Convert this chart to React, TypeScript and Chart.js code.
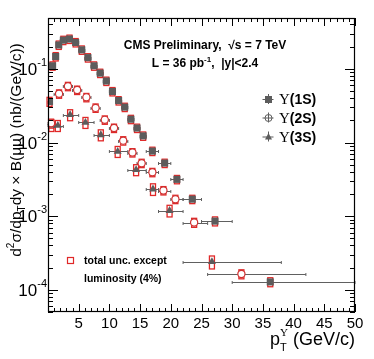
import React, { useEffect, useRef } from "react";
import { Chart, registerables } from "chart.js";
Chart.register(...registerables);

// ---- Data ----
const pt1S = [0.25, 0.75, 1.25, 1.75, 2.5, 3.5, 4.5, 5.5, 6.5, 7.5, 8.5, 9.5, 10.5, 11.5, 12.5, 13.5, 14.5, 15.5, 17, 19, 21, 23.5, 27.2, 36.2];
const lo1S = [0, 0.5, 1, 1.5, 2, 3, 4, 5, 6, 7, 8, 9, 10, 11, 12, 13, 14, 15, 16, 18, 20, 22, 25, 30];
const hi1S = [0.5, 1, 1.5, 2, 3, 4, 5, 6, 7, 8, 9, 10, 11, 12, 13, 14, 15, 16, 18, 20, 22, 25, 30, 50];
const val1S = [0.036, 0.11, 0.147, 0.211, 0.245, 0.254, 0.228, 0.181, 0.142, 0.11, 0.0875, 0.0683, 0.0493, 0.0371, 0.0302, 0.0207, 0.0157, 0.0123, 0.00764, 0.00525, 0.00316, 0.0017, 0.000857, 0.000128];
const unc1S = [0.14, 0.13, 0.13, 0.13, 0.13, 0.13, 0.13, 0.13, 0.13, 0.13, 0.13, 0.13, 0.13, 0.13, 0.13, 0.13, 0.13, 0.13, 0.13, 0.13, 0.13, 0.13, 0.14, 0.14];

const pt2S = [0.5, 1.8, 3.25, 4.75, 6.25, 7.75, 9.25, 10.75, 12.25, 13.75, 15.25, 17, 18.8, 20.75, 23.8, 31.5];
const lo2S = [0, 1, 2.5, 4, 5.5, 7, 8.5, 10, 11.5, 13, 14.5, 16, 18, 20, 22, 26];
const hi2S = [1, 2.5, 4, 5.5, 7, 8.5, 10, 11.5, 13, 14.5, 16, 18, 20, 22, 26, 42];
const val2S = [0.0182, 0.0458, 0.058, 0.0515, 0.041, 0.0295, 0.0203, 0.0157, 0.0106, 0.0073, 0.00524, 0.00394, 0.00223, 0.0017, 0.00082, 0.000164];
const unc2S = [0.14, 0.13, 0.13, 0.13, 0.13, 0.13, 0.13, 0.13, 0.13, 0.13, 0.13, 0.13, 0.13, 0.13, 0.14, 0.14];

const pt3S = [0.55, 1.6, 3.6, 6.1, 8.6, 11.35, 14.35, 17.1, 19.8, 26.7];
const lo3S = [0, 1, 2.5, 5, 7.5, 10, 13, 16, 18, 22];
const hi3S = [1, 2.5, 5, 7.5, 10, 13, 16, 18, 22, 38];
const val3S = [0.0172, 0.017, 0.0238, 0.0187, 0.0127, 0.00755, 0.00427, 0.00233, 0.00119, 0.00024];
const unc3S = [0.18, 0.17, 0.17, 0.17, 0.17, 0.17, 0.17, 0.18, 0.18, 0.2];

const xTickValues = [5, 10, 15, 20, 25, 30, 35, 40, 45, 50];
const xTickLabels = ["5", "10", "15", "20", "25", "30", "35", "40", "45", "50"];
const yDecades = [-1, -2, -3, -4];
const legendNames = ["(1S)", "(2S)", "(3S)"];

const FONT = '"Liberation Sans", Arial, Helvetica, sans-serif';
const SERIF = '"Liberation Serif", "DejaVu Serif", serif';
const GRAY = "#5c5c5c";
const BAR = "#606060";
const RED = "#e02828";

type Seg = { t: string; size: number; dy?: number; bold?: boolean; fam?: string; stack?: boolean };

function drawSegs(ctx: CanvasRenderingContext2D, segs: Seg[], x: number, y: number, align: "left" | "center" | "right") {
  const widths = segs.map((s) => {
    ctx.font = `${s.bold ? "bold " : ""}${s.size}px ${s.fam || FONT}`;
    return ctx.measureText(s.t).width;
  });
  let tw = 0, ps = 0, pe = 0;
  segs.forEach((s, i) => {
    if (s.stack) { pe = Math.max(pe, ps + widths[i]); tw = pe; }
    else { ps = pe; pe = ps + widths[i]; tw = pe; }
  });
  const x0 = align === "left" ? x : align === "center" ? x - tw / 2 : x - tw;
  ps = 0; pe = 0;
  segs.forEach((s, i) => {
    ctx.font = `${s.bold ? "bold " : ""}${s.size}px ${s.fam || FONT}`;
    let sx;
    if (s.stack) { sx = ps; pe = Math.max(pe, ps + widths[i]); }
    else { ps = pe; sx = ps; pe = ps + widths[i]; }
    ctx.fillText(s.t, x0 + sx, y + (s.dy || 0));
  });
}

const series = [
  { pt: pt1S, lo: lo1S, hi: hi1S, v: val1S, u: unc1S },
  { pt: pt2S, lo: lo2S, hi: hi2S, v: val2S, u: unc2S },
  { pt: pt3S, lo: lo3S, hi: hi3S, v: val3S, u: unc3S },
];

const errPlugin = {
  id: "errs",
  beforeDatasetsDraw(chart: any) {
    const ctx: CanvasRenderingContext2D = chart.ctx;
    const xs = chart.scales.x, ys = chart.scales.y;
    ctx.save();
    series.forEach((s) => {
      for (let i = 0; i < s.pt.length; i++) {
        const y = Math.round(ys.getPixelForValue(s.v[i])) + 0.5;
        const x1 = xs.getPixelForValue(s.lo[i]);
        const x2 = xs.getPixelForValue(s.hi[i]);
        const xc = xs.getPixelForValue(s.pt[i]);
        ctx.strokeStyle = BAR;
        ctx.lineWidth = 1;
        ctx.beginPath();
        ctx.moveTo(x1, y); ctx.lineTo(x2, y);
        ctx.moveTo(x1, y - 1.5); ctx.lineTo(x1, y + 1.5);
        ctx.moveTo(x2, y - 1.5); ctx.lineTo(x2, y + 1.5);
        ctx.stroke();
        const yt = ys.getPixelForValue(s.v[i] * (1 + s.u[i]));
        const yb = ys.getPixelForValue(s.v[i] * (1 - s.u[i]));
        ctx.strokeStyle = RED;
        ctx.lineWidth = 1.3;
        ctx.strokeRect(xc - 2.5, yt, 5, yb - yt);
      }
    });
    ctx.restore();
  },
  afterDraw(chart: any) {
    const ctx: CanvasRenderingContext2D = chart.ctx;
    const { left, right, top, bottom } = chart.chartArea;
    const xs = chart.scales.x, ys = chart.scales.y;
    ctx.save();
    ctx.strokeStyle = "#000";
    ctx.lineWidth = 1;
    ctx.beginPath();
    for (let v = 0; v <= 50; v++) {
      const px = Math.round(xs.getPixelForValue(v)) + 0.5;
      const len = v % 5 === 0 ? 8 : 4;
      ctx.moveTo(px, bottom); ctx.lineTo(px, bottom - len);
      ctx.moveTo(px, top); ctx.lineTo(px, top + len);
    }
    for (let d = -5; d <= 0; d++) {
      for (let m = 1; m <= 9; m++) {
        const v = m * Math.pow(10, d);
        if (v < ys.min || v > ys.max) continue;
        const py = Math.round(ys.getPixelForValue(v)) + 0.5;
        const len = m === 1 ? 10 : 5;
        ctx.moveTo(left, py); ctx.lineTo(left + len, py);
        ctx.moveTo(right, py); ctx.lineTo(right - len, py);
      }
    }
    ctx.stroke();
    ctx.lineWidth = 1.2;
    ctx.strokeRect(Math.round(left) + 0.5, Math.round(top) + 0.5, Math.round(right - left) - 1, Math.round(bottom - top) - 1);

    ctx.fillStyle = "#000";
    ctx.textBaseline = "alphabetic";
    ctx.font = `15px ${FONT}`;
    ctx.textAlign = "center";
    xTickValues.forEach((v, i) => {
      ctx.fillText(xTickLabels[i], xs.getPixelForValue(v), 328);
    });
    ctx.textAlign = "left";
    yDecades.forEach((d) => {
      const py = ys.getPixelForValue(Math.pow(10, d));
      const sup = String(d);
      ctx.font = `11px ${FONT}`;
      const sw = ctx.measureText(sup).width;
      ctx.font = `17px ${FONT}`;
      const bw = ctx.measureText("10").width;
      const xr = 47;
      ctx.fillText("10", xr - sw - bw, py + 6);
      ctx.font = `11px ${FONT}`;
      ctx.fillText(sup, xr - sw, py - 3);
    });

    // y axis title
    ctx.save();
    ctx.translate(21, 150);
    ctx.rotate(-Math.PI / 2);
    drawSegs(ctx, [
      { t: "d", size: 15.5 },
      { t: "2", size: 10, dy: -7 },
      { t: "σ/dp", size: 15.5 },
      { t: "T", size: 10, dy: 4 },
      { t: "dy × B(μμ) (nb/(GeV/c))", size: 15.5 },
    ], 0, 0, "center");
    ctx.restore();
    ctx.restore();
  },
};

const textPlugin = {
  id: "texts",
  afterDraw(chart: any) {
    const ctx: CanvasRenderingContext2D = chart.ctx;
    ctx.save();
    ctx.fillStyle = "#000";
    ctx.textBaseline = "alphabetic";
    ctx.textAlign = "left";
    drawSegs(ctx, [
      { t: "p", size: 18 },
      { t: "T", size: 11, dy: 6 },
      { t: "Υ", size: 11, dy: -9, stack: true, fam: SERIF },
      { t: " (GeV/c)", size: 18 },
    ], 355, 345, "right");

    drawSegs(ctx, [{ t: "CMS Preliminary,  √s = 7 TeV", size: 12, bold: true }], 205, 49, "center");
    drawSegs(ctx, [
      { t: "L = 36 pb", size: 12, bold: true },
      { t: "-1", size: 8, bold: true, dy: -5 },
      { t: ",  |y|<2.4", size: 12, bold: true },
    ], 205, 67, "center");

    const rows = [99, 117.5, 136.5];
    const mx = 268;
    rows.forEach((ry, i) => {
      ctx.strokeStyle = GRAY;
      ctx.lineWidth = 1;
      ctx.beginPath();
      ctx.moveTo(mx - 5.5, ry + 0.5); ctx.lineTo(mx + 5.5, ry + 0.5);
      ctx.moveTo(mx + 0.5, ry - 5); ctx.lineTo(mx + 0.5, ry + 5);
      ctx.stroke();
      ctx.fillStyle = GRAY;
      if (i === 0) {
        ctx.fillRect(mx - 3, ry - 3, 7, 7);
      } else if (i === 1) {
        ctx.beginPath();
        ctx.arc(mx + 0.5, ry + 0.5, 3.5, 0, Math.PI * 2);
        ctx.fillStyle = "#fff";
        ctx.fill();
        ctx.stroke();
        ctx.beginPath();
        ctx.moveTo(mx - 3, ry + 0.5); ctx.lineTo(mx + 4, ry + 0.5);
        ctx.moveTo(mx + 0.5, ry - 3); ctx.lineTo(mx + 0.5, ry + 4);
        ctx.stroke();
      } else {
        ctx.beginPath();
        ctx.moveTo(mx + 0.5, ry - 3.5);
        ctx.lineTo(mx + 4, ry + 3);
        ctx.lineTo(mx - 3, ry + 3);
        ctx.closePath();
        ctx.fill();
      }
      ctx.fillStyle = "#000";
      drawSegs(ctx, [
        { t: "Υ", size: 15, fam: SERIF },
        { t: legendNames[i], size: 14, bold: true },
      ], 279, ry + 5, "left");
    });

    ctx.strokeStyle = RED;
    ctx.lineWidth = 1.2;
    ctx.strokeRect(67.5, 257.5, 6, 6);
    ctx.fillStyle = "#000";
    drawSegs(ctx, [{ t: "total unc. except", size: 10.5, bold: true }], 84, 264, "left");
    drawSegs(ctx, [{ t: "luminosity (4%)", size: 10.5, bold: true }], 84, 282, "left");
    ctx.restore();
  },
};

export default function App() {
  const ref = useRef<HTMLCanvasElement | null>(null);
  useEffect(() => {
    if (!ref.current) return;
    const mk = (a: number[], b: number[]) => a.map((x, i) => ({ x, y: b[i] }));
    const chart = new Chart(ref.current, {
      type: "scatter",
      data: {
        datasets: [
          { label: "1S", data: mk(pt1S, val1S), pointStyle: "rect", pointRadius: 5, backgroundColor: GRAY, borderColor: GRAY, borderWidth: 0 },
          { label: "2S", data: mk(pt2S, val2S), pointStyle: "circle", pointRadius: 3.6, backgroundColor: "#fff", borderColor: "#d03030", borderWidth: 1.2 },
          { label: "3S", data: mk(pt3S, val3S), pointStyle: "triangle", pointRadius: 4.6, backgroundColor: GRAY, borderColor: GRAY, borderWidth: 0 },
        ],
      },
      options: {
        animation: false,
        responsive: false,
        devicePixelRatio: 1,
        layout: { padding: { left: 48, right: 19, top: 18, bottom: 47 } },
        plugins: { legend: { display: false }, tooltip: { enabled: false } },
        scales: {
          x: { type: "linear", min: 0, max: 50, display: false },
          y: { type: "logarithmic", min: 5.0e-5, max: 0.49, display: false },
        },
      },
      plugins: [errPlugin, textPlugin],
    } as any);
    return () => chart.destroy();
  }, []);
  return (
    <div style={{ position: "fixed", left: 0, top: 0, width: 374, height: 359, background: "#fff" }}>
      <canvas ref={ref} width={374} height={359} style={{ width: 374, height: 359 }} />
    </div>
  );
}
